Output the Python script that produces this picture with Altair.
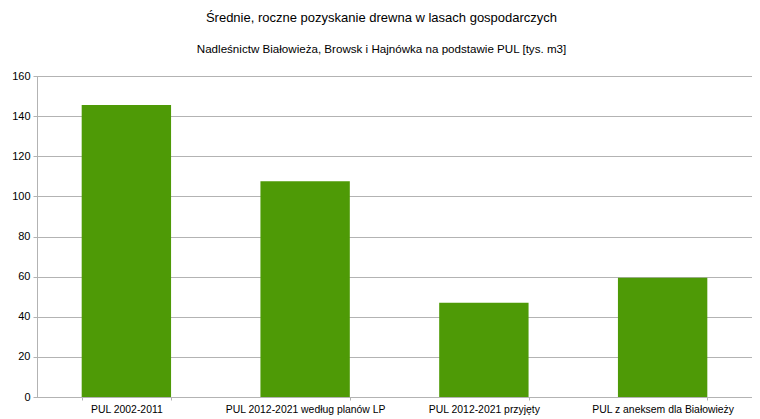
import altair as alt
import pandas as pd

categories = ["PUL 2002-2011", "PUL 2012-2021 według planów LP", "PUL 2012-2021 przyjęty", "PUL z aneksem dla Białowieży"]
values = [145.5, 107.5, 47, 59.5]

df = pd.DataFrame({"kategoria": categories, "wartosc": values})

FONT = "Liberation Sans"
GRID = "#b3b3b3"

chart = alt.Chart(df).mark_bar(color="#4e9a06").encode(
    x=alt.X("kategoria:N", sort=categories, title=None,
            scale=alt.Scale(paddingInner=0.5, paddingOuter=0.25),
            axis=alt.Axis(labelAngle=0, labelFontSize=10.4, labelColor="#000000", labelFont=FONT,
                          tickBand="extent", tickSize=3, tickColor=GRID, domainColor=GRID,
                          labelPadding=4)),
    y=alt.Y("wartosc:Q", title=None,
            scale=alt.Scale(domain=[0, 160]),
            axis=alt.Axis(values=[0, 20, 40, 60, 80, 100, 120, 140, 160], labelFontSize=11,
                          labelColor="#000000", labelFont=FONT, gridColor=GRID, domainColor=GRID,
                          tickColor=GRID, tickSize=4, labelPadding=3)),
).properties(
    width=715,
    height=321,
    autosize=alt.AutoSizeParams(type="none"),
    padding={"left": 29, "top": 68, "right": 0, "bottom": 20},
    title=alt.TitleParams(
        text="Średnie, roczne pozyskanie drewna w lasach gospodarczych",
        subtitle="Nadleśnictw Białowieża, Browsk i Hajnówka na podstawie PUL [tys. m3]",
        anchor="middle", dx=-13, offset=14, fontSize=13, subtitleFontSize=11.6,
        font=FONT, subtitleFont=FONT, fontWeight="normal", color="#000000",
        subtitleColor="#000000", subtitlePadding=19,
    ),
).configure_view(stroke=GRID)

chart.save("out.html", embed_options={"renderer": "svg", "actions": False})
